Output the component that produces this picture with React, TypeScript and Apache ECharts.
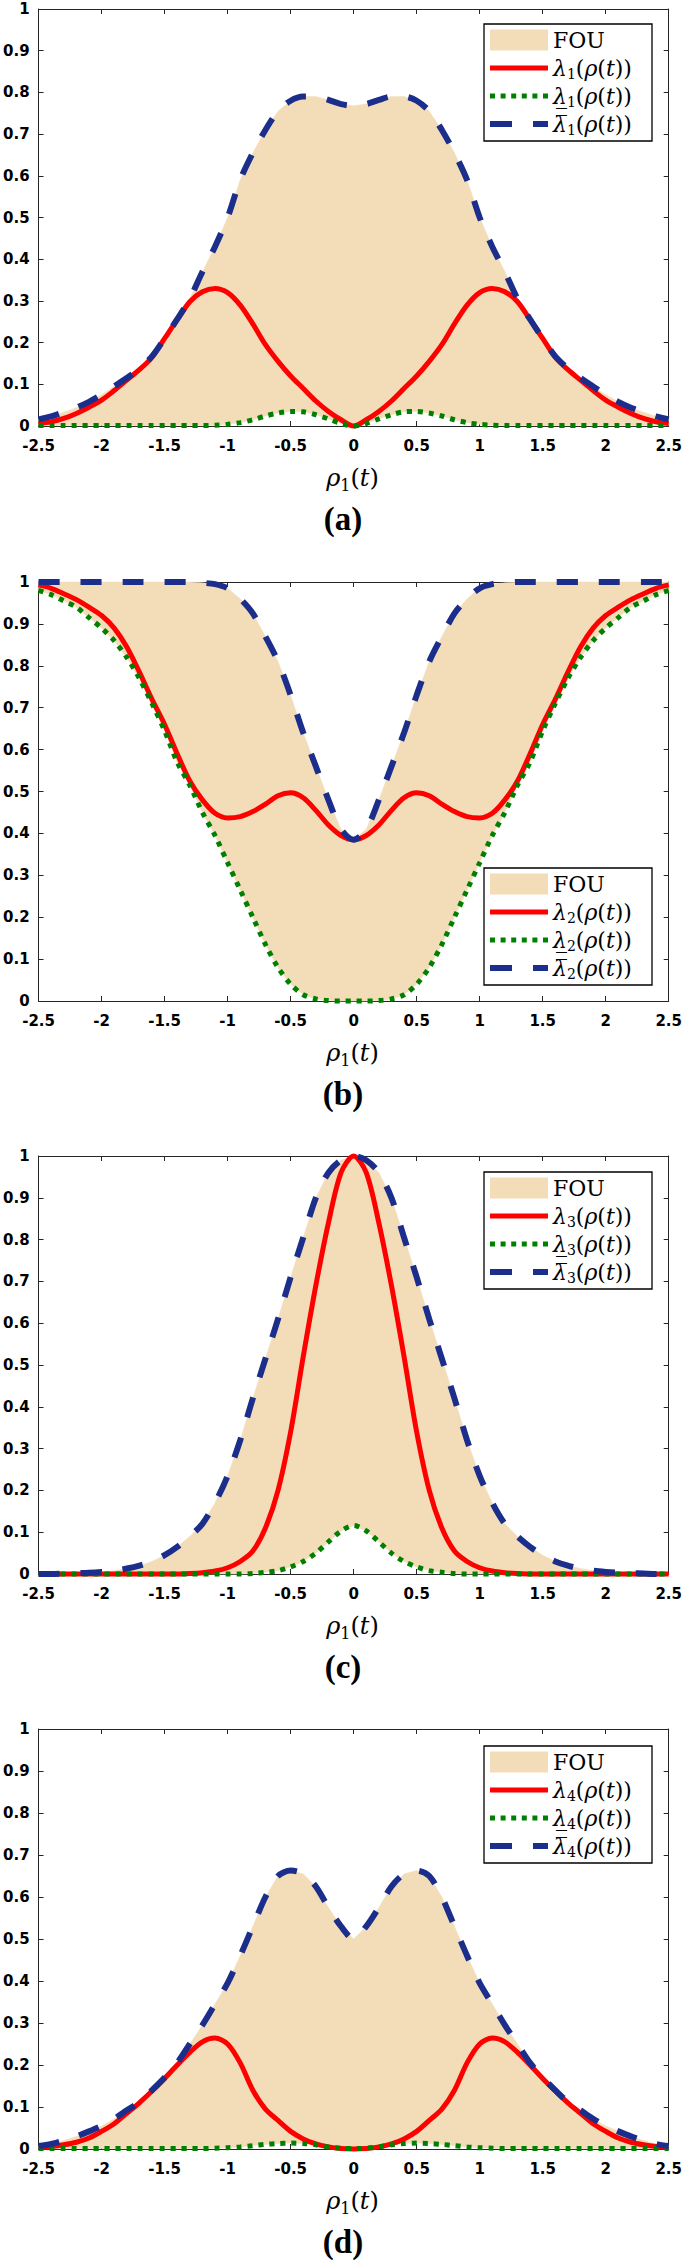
import React, { useEffect, useRef } from "react";
import * as echarts from "echarts";

// sample positions along rho_1(t)
const RHO = [
  -2.5, -2.4, -2.3, -2.2, -2.1, -2.0, -1.9, -1.8, -1.7, -1.6, -1.5, -1.4, -1.3,
  -1.2, -1.1, -1.0, -0.9, -0.8, -0.7, -0.6, -0.5, -0.4, -0.3, -0.2, -0.1, 0.0,
  0.1, 0.2, 0.3, 0.4, 0.5, 0.6, 0.7, 0.8, 0.9, 1.0, 1.1, 1.2, 1.3, 1.4, 1.5,
  1.6, 1.7, 1.8, 1.9, 2.0, 2.1, 2.2, 2.3, 2.4, 2.5,
];

// ---- panel (a) ----
const UPPER_1 = [
  0.016, 0.023, 0.033, 0.044, 0.058, 0.075, 0.095, 0.115, 0.138, 0.167, 0.21,
  0.256, 0.305, 0.37, 0.43, 0.5, 0.59, 0.655, 0.71, 0.755, 0.78, 0.79, 0.79,
  0.782, 0.772, 0.768, 0.772, 0.782, 0.79, 0.79, 0.78, 0.755, 0.71, 0.655,
  0.59, 0.5, 0.43, 0.37, 0.305, 0.256, 0.21, 0.167, 0.138, 0.115, 0.095, 0.075,
  0.058, 0.044, 0.033, 0.023, 0.016,
];
const LAMBDA_1 = [
  0.006, 0.01, 0.018, 0.03, 0.045, 0.062, 0.085, 0.11, 0.135, 0.165, 0.21,
  0.255, 0.298, 0.322, 0.33, 0.32, 0.29, 0.245, 0.195, 0.155, 0.12, 0.09, 0.06,
  0.035, 0.015, 0.0, 0.015, 0.035, 0.06, 0.09, 0.12, 0.155, 0.195, 0.245, 0.29,
  0.32, 0.33, 0.322, 0.298, 0.255, 0.21, 0.165, 0.135, 0.11, 0.085, 0.062,
  0.045, 0.03, 0.018, 0.01, 0.006,
];
const LOWER_1 = [
  0.001, 0.001, 0.001, 0.001, 0.001, 0.001, 0.001, 0.001, 0.001, 0.001, 0.001,
  0.001, 0.001, 0.001, 0.002, 0.004, 0.008, 0.015, 0.024, 0.031, 0.035, 0.034,
  0.027, 0.017, 0.006, 0.0, 0.006, 0.017, 0.027, 0.034, 0.035, 0.031, 0.024,
  0.015, 0.008, 0.004, 0.002, 0.001, 0.001, 0.001, 0.001, 0.001, 0.001, 0.001,
  0.001, 0.001, 0.001, 0.001, 0.001, 0.001, 0.001,
];

// ---- panel (b) ----
const UPPER_2 = [
  1.0, 1.0, 1.0, 1.0, 1.0, 1.0, 1.0, 1.0, 1.0, 1.0, 1.0, 1.0, 1.0, 0.998,
  0.995, 0.985, 0.96, 0.925, 0.87, 0.81, 0.73, 0.64, 0.56, 0.48, 0.41, 0.385,
  0.41, 0.48, 0.56, 0.64, 0.73, 0.81, 0.87, 0.925, 0.96, 0.985, 0.995, 0.998,
  1.0, 1.0, 1.0, 1.0, 1.0, 1.0, 1.0, 1.0, 1.0, 1.0, 1.0, 1.0, 1.0,
];
const LAMBDA_2 = [
  0.993, 0.985, 0.972, 0.958, 0.94, 0.92, 0.89, 0.845, 0.785, 0.72, 0.66, 0.59,
  0.525, 0.48, 0.448, 0.437, 0.44, 0.452, 0.47, 0.49, 0.497, 0.485, 0.455, 0.42,
  0.395, 0.385, 0.395, 0.42, 0.455, 0.485, 0.497, 0.49, 0.47, 0.452, 0.44,
  0.437, 0.448, 0.48, 0.525, 0.59, 0.66, 0.72, 0.785, 0.845, 0.89, 0.92, 0.94,
  0.958, 0.972, 0.985, 0.993,
];
const LOWER_2 = [
  0.98, 0.97, 0.955, 0.94, 0.915, 0.89, 0.86, 0.82, 0.77, 0.71, 0.645, 0.57,
  0.515, 0.45, 0.395, 0.33, 0.265, 0.2, 0.135, 0.08, 0.04, 0.015, 0.005, 0.001,
  0.0, 0.0, 0.0, 0.001, 0.005, 0.015, 0.04, 0.08, 0.135, 0.2, 0.265, 0.33,
  0.395, 0.45, 0.515, 0.57, 0.645, 0.71, 0.77, 0.82, 0.86, 0.89, 0.915, 0.94,
  0.955, 0.97, 0.98,
];

// ---- panel (c) ----
const UPPER_3 = [
  0.0, 0.0, 0.001, 0.002, 0.003, 0.005, 0.008, 0.013, 0.02, 0.03, 0.045, 0.065,
  0.09, 0.12, 0.17, 0.235, 0.32, 0.42, 0.515, 0.61, 0.71, 0.805, 0.9, 0.96,
  0.99, 1.0, 0.99, 0.96, 0.9, 0.805, 0.71, 0.61, 0.515, 0.42, 0.32, 0.235, 0.17,
  0.12, 0.09, 0.065, 0.045, 0.03, 0.02, 0.013, 0.008, 0.005, 0.003, 0.002,
  0.001, 0.0, 0.0,
];
const LAMBDA_3 = [
  0.0, 0.0, 0.0, 0.0, 0.0, 0.0, 0.0, 0.0, 0.0, 0.0, 0.0, 0.0, 0.001, 0.003,
  0.007, 0.015, 0.03, 0.055, 0.11, 0.2, 0.34, 0.52, 0.69, 0.84, 0.96, 1.0, 0.96,
  0.84, 0.69, 0.52, 0.34, 0.2, 0.11, 0.055, 0.03, 0.015, 0.007, 0.003, 0.001,
  0.0, 0.0, 0.0, 0.0, 0.0, 0.0, 0.0, 0.0, 0.0, 0.0, 0.0, 0.0,
];
const LOWER_3 = [
  0.0, 0.0, 0.0, 0.0, 0.0, 0.0, 0.0, 0.0, 0.0, 0.0, 0.0, 0.0, 0.0, 0.0, 0.0,
  0.0, 0.0, 0.001, 0.004, 0.008, 0.017, 0.03, 0.05, 0.077, 0.103, 0.116, 0.103,
  0.077, 0.05, 0.03, 0.017, 0.008, 0.004, 0.001, 0.0, 0.0, 0.0, 0.0, 0.0, 0.0,
  0.0, 0.0, 0.0, 0.0, 0.0, 0.0, 0.0, 0.0, 0.0, 0.0, 0.0,
];

// ---- panel (d) ----
const UPPER_4 = [
  0.007, 0.012, 0.02, 0.03, 0.042, 0.055, 0.072, 0.092, 0.112, 0.14, 0.17,
  0.205, 0.25, 0.295, 0.345, 0.395, 0.46, 0.53, 0.6, 0.65, 0.663, 0.655, 0.625,
  0.575, 0.53, 0.5, 0.53, 0.575, 0.625, 0.655, 0.663, 0.65, 0.6, 0.53, 0.46,
  0.395, 0.345, 0.295, 0.25, 0.205, 0.17, 0.14, 0.112, 0.092, 0.072, 0.055,
  0.042, 0.03, 0.02, 0.012, 0.007,
];
const LAMBDA_4 = [
  0.004, 0.006, 0.01, 0.016, 0.026, 0.042, 0.06, 0.085, 0.11, 0.138, 0.168, 0.2,
  0.23, 0.255, 0.264, 0.25, 0.205, 0.14, 0.095, 0.068, 0.042, 0.024, 0.012,
  0.005, 0.001, 0.0, 0.001, 0.005, 0.012, 0.024, 0.042, 0.068, 0.095, 0.14,
  0.205, 0.25, 0.264, 0.255, 0.23, 0.2, 0.168, 0.138, 0.11, 0.085, 0.06, 0.042,
  0.026, 0.016, 0.01, 0.006, 0.004,
];
const LOWER_4 = [
  0.001, 0.001, 0.001, 0.001, 0.001, 0.001, 0.001, 0.001, 0.001, 0.001, 0.001,
  0.001, 0.001, 0.001, 0.002, 0.003, 0.005, 0.008, 0.011, 0.013, 0.014, 0.013,
  0.01, 0.005, 0.002, 0.001, 0.002, 0.005, 0.01, 0.013, 0.014, 0.013, 0.011,
  0.008, 0.005, 0.003, 0.002, 0.001, 0.001, 0.001, 0.001, 0.001, 0.001, 0.001,
  0.001, 0.001, 0.001, 0.001, 0.001, 0.001, 0.001,
];

const SUBSCRIPTS = ["1", "2", "3", "4"];
const PANEL_LABELS = ["(a)", "(b)", "(c)", "(d)"];
const FOU_NAME = "FOU";

const PANELS = [
  { upper: UPPER_1, lambda: LAMBDA_1, lower: LOWER_1 },
  { upper: UPPER_2, lambda: LAMBDA_2, lower: LOWER_2 },
  { upper: UPPER_3, lambda: LAMBDA_3, lower: LOWER_3 },
  { upper: UPPER_4, lambda: LAMBDA_4, lower: LOWER_4 },
];

// layout
const W = 685;
const H = 2260;
const GRID_LEFT = 35;
const GRID_RIGHT = 15;
const GRID_TOPS = [9, 582, 1156, 1729];
const GRID_HEIGHTS = [417, 419, 418, 420];
const LEGEND_TOPS = [24, 868, 1172, 1746];
const LEGEND_LEFT = 484;
const LEGEND_W = 168;
const LEGEND_H = 117;

const TAN = "#F3DDB8";
const RED = "#FF0000";
const GREEN = "#008000";
const BLUE = "#1B2E8C";
const AXIS = "#262626";
const SERIF = "DejaVu Serif";

const fmt = (v: number) => String(Number(v.toFixed(1)));

const RICH = {
  f: { fontFamily: SERIF, fontSize: 22, fill: "#000", lineHeight: 26 },
  l: { fontFamily: SERIF, fontStyle: "italic", fontSize: 22, fill: "#000", lineHeight: 26 },
  s: { fontFamily: SERIF, fontSize: 14, fill: "#000", lineHeight: 26, verticalAlign: "bottom" },
  n: { fontFamily: SERIF, fontSize: 22, fill: "#000", lineHeight: 26 },
  i: { fontFamily: SERIF, fontStyle: "italic", fontSize: 22, fill: "#000", lineHeight: 26 },
};

const AXIS_NAME_RICH = {
  i: { fontFamily: SERIF, fontStyle: "italic", fontSize: 24, fill: "#000", lineHeight: 30 },
  n: { fontFamily: SERIF, fontSize: 24, fill: "#000", lineHeight: 30 },
  s: { fontFamily: SERIF, fontSize: 16, fill: "#000", lineHeight: 30, verticalAlign: "bottom" },
};

function App() {
  const ref = useRef<HTMLDivElement>(null);

  useEffect(() => {
    document.body.style.margin = "0";
    if (!ref.current) return;
    const chart = echarts.init(ref.current, null, { renderer: "svg" });

    const grid: any[] = [];
    const xAxis: any[] = [];
    const yAxis: any[] = [];
    const series: any[] = [];
    const graphic: any[] = [];

    const axisLine = { show: true, onZero: false, lineStyle: { color: AXIS, width: 1 } };
    const axisTick = { show: true, inside: true, length: 5, lineStyle: { color: AXIS, width: 1 } };
    const tickFont = {
      fontFamily: "DejaVu Sans",
      fontWeight: "bold",
      fontSize: 15,
      color: "#000",
    };

    PANELS.forEach((p, k) => {
      const top = GRID_TOPS[k];
      const h = GRID_HEIGHTS[k];
      grid.push({ left: GRID_LEFT, right: GRID_RIGHT, top, height: h, containLabel: false });

      xAxis.push({
        type: "value", gridIndex: k, position: "bottom", min: -2.5, max: 2.5, interval: 0.5,
        axisLine, axisTick, splitLine: { show: false },
        axisLabel: { ...tickFont, margin: 12, formatter: fmt },
      });
      xAxis.push({
        type: "value", gridIndex: k, position: "top", min: -2.5, max: 2.5, interval: 0.5,
        axisLine, axisTick, splitLine: { show: false }, axisLabel: { show: false },
      });
      yAxis.push({
        type: "value", gridIndex: k, position: "left", min: 0, max: 1, interval: 0.1,
        axisLine, axisTick, splitLine: { show: false },
        axisLabel: { ...tickFont, margin: 9, formatter: fmt },
      });
      yAxis.push({
        type: "value", gridIndex: k, position: "right", min: 0, max: 1, interval: 0.1,
        axisLine, axisTick, splitLine: { show: false }, axisLabel: { show: false },
      });

      const sub = SUBSCRIPTS[k];
      const pairs = (arr: number[]) => RHO.map((x, j) => [x, arr[j]]);
      const base = {
        type: "line", xAxisIndex: 2 * k, yAxisIndex: 2 * k, symbol: "none",
        smooth: 0.3, clip: false, silent: true,
      };

      // FOU band between lower and upper bounds
      series.push({
        type: "custom",
        name: FOU_NAME,
        xAxisIndex: 2 * k,
        yAxisIndex: 2 * k,
        silent: true,
        itemStyle: { color: TAN },
        data: [[0, 0]],
        renderItem: (params: any, api: any) => {
          const pts: number[][] = [];
          for (let j = 0; j < RHO.length; j++) pts.push(api.coord([RHO[j], p.upper[j]]));
          for (let j = RHO.length - 1; j >= 0; j--) pts.push(api.coord([RHO[j], p.lower[j]]));
          return {
            type: "polygon",
            shape: { points: pts },
            style: { fill: TAN, stroke: TAN, lineWidth: 0.5 },
          };
        },
      });
      series.push({
        ...base, name: "lambda" + sub, data: pairs(p.lambda),
        itemStyle: { color: RED },
        lineStyle: { color: RED, width: 5 },
      });
      series.push({
        ...base, name: "lower" + sub, data: pairs(p.lower),
        itemStyle: { color: GREEN },
        lineStyle: { color: GREEN, width: 5, type: [5, 6], cap: "butt" },
      });
      series.push({
        ...base, name: "upper" + sub, data: pairs(p.upper),
        itemStyle: { color: BLUE },
        lineStyle: { color: BLUE, width: 6, type: [21, 21], cap: "butt" },
      });

      // legend box (drawn as graphic so line styles match)
      const lt = LEGEND_TOPS[k];
      const tail = "{s|" + sub + "}{n|(}{i|ρ}{n|(}{i|t}{n|))}";
      const sx1 = LEGEND_LEFT + 6;
      const sx2 = sx1 + 58;
      const tx = sx2 + 5;
      const rows = [16, 44, 72, 100];
      graphic.push({
        type: "group",
        z: 100,
        children: [
          {
            type: "rect",
            shape: { x: LEGEND_LEFT, y: lt, width: LEGEND_W, height: LEGEND_H },
            style: { fill: "#fff", stroke: "#000", lineWidth: 1.3 },
          },
          {
            type: "rect",
            shape: { x: sx1, y: lt + rows[0] - 10.5, width: 58, height: 21 },
            style: { fill: TAN },
          },
          {
            type: "line",
            shape: { x1: sx1, y1: lt + rows[1], x2: sx2, y2: lt + rows[1] },
            style: { stroke: RED, lineWidth: 5 },
          },
          {
            type: "line",
            shape: { x1: sx1, y1: lt + rows[2], x2: sx2, y2: lt + rows[2] },
            style: { stroke: GREEN, lineWidth: 5, lineDash: [5, 5.6] },
          },
          {
            type: "line",
            shape: { x1: sx1, y1: lt + rows[3], x2: sx2, y2: lt + rows[3] },
            style: { stroke: BLUE, lineWidth: 6, lineDash: [22, 21] },
          },
          {
            type: "text", x: tx, y: lt + rows[0],
            style: { text: "{f|FOU}", rich: RICH, verticalAlign: "middle", align: "left" },
          },
          {
            type: "text", x: tx, y: lt + rows[1],
            style: { text: "{l|λ}" + tail, rich: RICH, verticalAlign: "middle", align: "left" },
          },
          {
            type: "text", x: tx, y: lt + rows[2],
            style: { text: "{l|λ\u0332}" + tail, rich: RICH, verticalAlign: "middle", align: "left" },
          },
          {
            type: "text", x: tx, y: lt + rows[3],
            style: { text: "{l|λ\u0305}" + tail, rich: RICH, verticalAlign: "middle", align: "left" },
          },
        ],
      });

      const y0 = top + h;
      graphic.push({
        type: "text",
        x: GRID_LEFT + (W - GRID_LEFT - GRID_RIGHT) / 2,
        y: y0 + 52,
        style: {
          text: "{i|ρ}{s|1}{n|(}{i|t}{n|)}",
          align: "center",
          verticalAlign: "middle",
          rich: AXIS_NAME_RICH,
        },
      });
      graphic.push({
        type: "text",
        x: 343,
        y: y0 + 93,
        style: {
          text: PANEL_LABELS[k],
          align: "center",
          verticalAlign: "middle",
          fontFamily: "Liberation Serif",
          fontWeight: "bold",
          fontSize: 33,
          fill: "#000",
        },
      });
    });

    chart.setOption({
      animation: false,
      backgroundColor: "#fff",
      grid,
      xAxis,
      yAxis,
      series,
      graphic,
    });

    return () => chart.dispose();
  }, []);

  return <div ref={ref} style={{ width: W, height: H }} />;
}

export default App;
